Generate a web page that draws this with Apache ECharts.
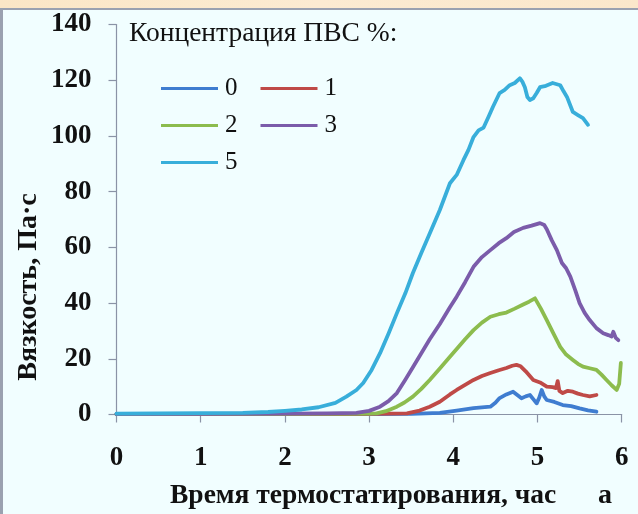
<!DOCTYPE html>
<html><head><meta charset="utf-8">
<script src="https://cdn.jsdelivr.net/npm/echarts@6/dist/echarts.min.js"></script>
<style>html,body{margin:0;padding:0;background:#F1FEFF;}#c{width:638px;height:514px;}</style>
</head><body><div id="c"></div>
<script>
// Categories (legend names)
const seriesNames = ['0', '1', '2', '3', '5'];
const seriesColors = ['#3F7DD0', '#BF4A47', '#8CBC4E', '#7B5CAA', '#38AEDA'];
const xTicks = [0, 1, 2, 3, 4, 5, 6];
const yTicks = [0, 20, 40, 60, 80, 100, 120, 140];

// 0 %
const t0 = [0, 1, 2, 3, 3.5, 3.84, 4.04, 4.24, 4.44, 4.5, 4.55, 4.63, 4.71, 4.76, 4.81, 4.86, 4.91, 4.95, 4.99, 5.02, 5.05, 5.08, 5.11, 5.2, 5.3, 5.4, 5.5, 5.6, 5.7];
const v0 = [0.1, 0.1, 0.1, 0.1, 0.2, 0.6, 1.4, 2.3, 2.8, 4.2, 5.9, 7.2, 8.2, 7, 5.8, 6.5, 7, 5.5, 4, 6, 8.8, 6.5, 5.2, 4.5, 3.4, 3.0, 2.2, 1.5, 1];
// 1 %
const t1 = [0, 1, 2, 3, 3.45, 3.6, 3.72, 3.84, 3.96, 4.04, 4.14, 4.24, 4.34, 4.44, 4.54, 4.63, 4.7, 4.75, 4.8, 4.86, 4.95, 5.03, 5.11, 5.18, 5.22, 5.24, 5.26, 5.3, 5.36, 5.42, 5.48, 5.54, 5.62, 5.7];
const v1 = [0.1, 0.1, 0.1, 0.2, 0.4, 1.4, 2.8, 4.6, 7.2, 8.8, 10.6, 12.4, 13.8, 14.9, 15.9, 16.7, 17.5, 17.8, 17.3, 15.5, 12.4, 11.5, 10, 9.8, 9.5, 12, 8.5, 7.7, 8.5, 8.2, 7.5, 7, 6.5, 7];
// 2 %
const t2 = [0, 1, 2, 3.0, 3.09, 3.2, 3.33, 3.42, 3.52, 3.62, 3.72, 3.84, 3.96, 4.04, 4.14, 4.24, 4.34, 4.44, 4.54, 4.63, 4.73, 4.83, 4.9, 4.97, 5.04, 5.11, 5.19, 5.27, 5.34, 5.42, 5.48, 5.54, 5.62, 5.7, 5.76, 5.82, 5.88, 5.94, 5.97, 5.99];
const v2 = [0.2, 0.2, 0.2, 0.3, 0.4, 1.2, 2.8, 4.3, 6.4, 9.2, 12.4, 16.5, 20.7, 23.5, 27, 30.3, 33, 35.1, 36, 36.6, 38, 39.5, 40.5, 41.7, 38, 33.9, 29, 24.3, 21.5, 19.6, 18.2, 17.2, 16.6, 16, 14.3, 12.4, 10.5, 8.8, 11, 18.5];
// 3 %
const t3 = [0, 1, 2, 2.5, 2.85, 3.0, 3.13, 3.23, 3.33, 3.43, 3.52, 3.62, 3.72, 3.84, 3.96, 4.04, 4.14, 4.24, 4.34, 4.44, 4.54, 4.63, 4.72, 4.83, 4.93, 5.03, 5.08, 5.11, 5.17, 5.23, 5.29, 5.34, 5.39, 5.45, 5.5, 5.56, 5.62, 5.7, 5.78, 5.84, 5.88, 5.9, 5.93, 5.96];
const v3 = [0.2, 0.2, 0.3, 0.4, 0.6, 1.3, 2.8, 4.8, 7.7, 12.5, 17, 22, 27, 32.5, 38.5, 42.3, 47.5, 53, 56.5, 59, 61.5, 63.3, 65.5, 67, 67.8, 68.7, 68, 66.5, 62.5, 59, 54.4, 52.5, 49.5, 44.5, 40, 36.5, 33.9, 31, 29.2, 28.5, 28, 29.7, 27.5, 26.7];
// 5 %
const t5 = [0, 0.5, 1.0, 1.5, 1.8, 2.0, 2.2, 2.4, 2.6, 2.73, 2.85, 2.93, 3.03, 3.13, 3.23, 3.33, 3.43, 3.52, 3.62, 3.72, 3.84, 3.96, 4.04, 4.12, 4.18, 4.24, 4.30, 4.36, 4.42, 4.47, 4.55, 4.61, 4.67, 4.73, 4.79, 4.82, 4.85, 4.88, 4.91, 4.95, 4.99, 5.03, 5.1, 5.18, 5.27, 5.31, 5.35, 5.42, 5.48, 5.54, 5.6];
const v5 = [0.3, 0.4, 0.5, 0.6, 0.9, 1.3, 1.8, 2.6, 4.2, 6.4, 8.8, 11.3, 16, 22, 29, 36.4, 43.5, 50.8, 58, 65, 73.4, 83, 86, 91.3, 95, 99.6, 102, 103, 107, 110.4, 115.4, 116.5, 118.2, 119, 120.7, 119.5, 117.5, 114, 112.9, 113.5, 115.4, 117.5, 118, 119, 118.2, 116, 114, 108.6, 107.5, 106.4, 104];

const times = [t0, t1, t2, t3, t5];
const vals = [v0, v1, v2, v3, v5];

const FONT = '"Liberation Serif", "Times New Roman", serif';
const chart = echarts.init(document.getElementById('c'), null, {renderer: 'canvas'});

const series = seriesNames.map((n, i) => ({
  name: n,
  type: 'line',
  data: times[i].map((t, k) => [t, vals[i][k]]),
  showSymbol: false,
  symbol: 'none',
  smooth: false,
  lineStyle: {width: 3.8, color: seriesColors[i], join: 'round', cap: 'round'},
  itemStyle: {color: seriesColors[i]},
  z: 2 + i
}));

function legendRow(names, top) {
  return {
    data: names, left: 161, top: top, orient: 'horizontal', padding: 0,
    icon: 'rect', itemWidth: 57, itemHeight: 3, itemGap: 23,
    textStyle: {fontFamily: FONT, fontSize: 25, color: '#111', padding: [0, 0, 0, 2]}
  };
}

const AXC = '#8A93A6';

const baseGraphic = [
  {id: 'band', type: 'rect', left: 0, top: 0, shape: {width: 638, height: 8},
   style: {fill: new echarts.graphic.LinearGradient(0, 0, 1, 0, [{offset: 0, color: '#FBE6C6'}, {offset: 0.5, color: '#FCEBD2'}, {offset: 1, color: '#FBE7CB'}])}, z: 10},
  {id: 'bandLine', type: 'rect', left: 0, top: 8, shape: {width: 638, height: 2}, style: {fill: '#9AA1B0'}, z: 10},
  {id: 'leftLine', type: 'rect', left: 0, top: 8, shape: {width: 3, height: 506}, style: {fill: '#9AA1B0'}, z: 10},
  {id: 'xname', type: 'text', x: 170, y: 496, z: 10,
   style: {text: 'Время термостатирования, час', font: 'bold 27.5px ' + FONT, fill: '#111', textAlign: 'left', textVerticalAlign: 'middle'}},
  {id: 'panel', type: 'text', x: 598, y: 496, z: 10,
   style: {text: 'а', font: 'bold 28px ' + FONT, fill: '#111', textAlign: 'left', textVerticalAlign: 'middle'}},
  {id: 'yname', type: 'text', x: 29, y: 287, rotation: Math.PI / 2, z: 10,
   style: {text: 'Вязкость, Па·с', font: 'bold 28px ' + FONT, fill: '#111', textAlign: 'center', textVerticalAlign: 'middle'}}
];

chart.setOption({
  backgroundColor: '#F1FEFF',
  animation: false,
  title: {
    text: 'Концентрация ПВС %:', left: 129, top: 20, padding: 0,
    textStyle: {fontFamily: FONT, fontSize: 27.5, fontWeight: 'normal', color: '#111'}
  },
  legend: [legendRow(['0', '1'], 76), legendRow(['2', '3'], 113), legendRow(['5'], 150)],
  grid: {left: 116.5, right: 16.3, top: 24.5, bottom: 99.5, containLabel: false},
  xAxis: {
    type: 'value', min: xTicks[0], max: xTicks[xTicks.length - 1], interval: 1,
    axisLine: {show: true, lineStyle: {color: AXC, width: 1.2}},
    axisTick: {show: true, length: 8, lineStyle: {color: AXC, width: 1.2}},
    splitLine: {show: false},
    axisLabel: {show: false}
  },
  yAxis: {
    type: 'value', min: yTicks[0], max: yTicks[yTicks.length - 1], interval: 20,
    axisLine: {show: true, lineStyle: {color: AXC, width: 1.2}},
    axisTick: {show: true, length: 8, lineStyle: {color: AXC, width: 1.2}},
    splitLine: {show: false},
    axisLabel: {margin: 25, fontFamily: FONT, fontSize: 27, fontWeight: 'bold', color: '#111'}
  },
  graphic: baseGraphic,
  series: series
});

// X tick labels placed through the library's own x scale
const xLabelGraphic = xTicks.map(function (v, i) {
  const px = chart.convertToPixel({xAxisIndex: 0}, v);
  return {id: 'xl' + i, type: 'text', x: px, y: 458, z: 10,
    style: {text: String(v), font: 'bold 27px ' + FONT, fill: '#111', textAlign: 'center', textVerticalAlign: 'middle'}};
});
chart.setOption({graphic: baseGraphic.concat(xLabelGraphic)});
</script>
</body></html>
